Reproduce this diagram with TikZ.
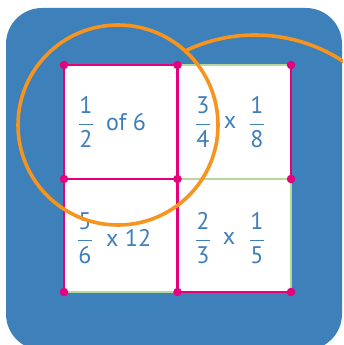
\documentclass[tikz,border=0pt]{standalone}
\usepackage{fontspec}
\setmainfont{PT Sans}
\definecolor{bg}{HTML}{3E80BA}
\definecolor{mag}{HTML}{E6007E}
\definecolor{org}{HTML}{F7941D}
\definecolor{grn}{HTML}{B5D99C}
\definecolor{txt}{HTML}{3E7EBA}
\tikzset{
  magline/.style={draw=mag, line width=2.6pt},
  grnline/.style={draw=grn, line width=1.4pt},
  dot/.style={circle, fill=mag, inner sep=0pt, minimum size=8.5pt},
  orgline/.style={draw=org, line width=3.6pt},
  lbl/.style={text=txt, font=\fontsize{24}{26}\selectfont, inner sep=0pt}
}
\newcommand{\fr}[2]{\ensuremath{\displaystyle\frac{\mbox{#1}}{\mbox{#2}}}}
\begin{document}
\begin{tikzpicture}[x=1pt,y=-1pt]
\useasboundingbox (0,0) rectangle (343,345);
\clip (0,0) rectangle (343,345);
\fill[bg, rounded corners=36pt] (6,8) rectangle (342,350);
% second orange arc
\draw[orgline] (255,196) ++(-115.6:161) arc[start angle=-115.6, end angle=-40, radius=161];
% white cells
\fill[white] (64,65) rectangle (291,292);
% grid points
\coordinate (p00) at (64,65);
\coordinate (p10) at (177.5,65);
\coordinate (p20) at (291,65);
\coordinate (p01) at (64,179);
\coordinate (p11) at (177.5,179);
\coordinate (p21) at (291,179);
\coordinate (p02) at (64,292);
\coordinate (p12) at (177.5,292);
\coordinate (p22) at (291,292);
% green lines
\draw[grnline] (p10) -- (p20);
\draw[grnline] (p11) -- (p21);
\draw[grnline] (p21) -- (p22);
\draw[grnline] (p02) -- (p12);
% magenta lines
\draw[magline] (p00) -- (p10);
\draw[magline] (p00) -- (p02);
\draw[magline] (p10) -- (p12);
\draw[magline] (p01) -- (p11);
\draw[magline] (p20) -- (p21);
\draw[magline] (p12) -- (p22);
% dots
\foreach \p in {p00,p10,p20,p01,p11,p21,p02,p12,p22}
  \node[dot] at (\p) {};
% texts
\node[lbl] (a1) at (86,122) {\fr{1}{2}};
\node[lbl, anchor=west] (a2) at (106,122) {of 6};
\node[lbl] (b1) at (203,122) {\fr{3}{4}};
\node[lbl] (b2) at (230,122) {x};
\node[lbl] (b3) at (257,122) {\fr{1}{8}};
\node[lbl] (c1) at (85,238) {\fr{5}{6}};
\node[lbl, anchor=west] (c2) at (106,238) {x 12};
\node[lbl] (d1) at (203,238) {\fr{2}{3}};
\node[lbl] (d2) at (229,238) {x};
\node[lbl] (d3) at (257,238) {\fr{1}{5}};
% first orange circle
\draw[orgline] (118,125) circle[radius=100];
\end{tikzpicture}
\end{document}
